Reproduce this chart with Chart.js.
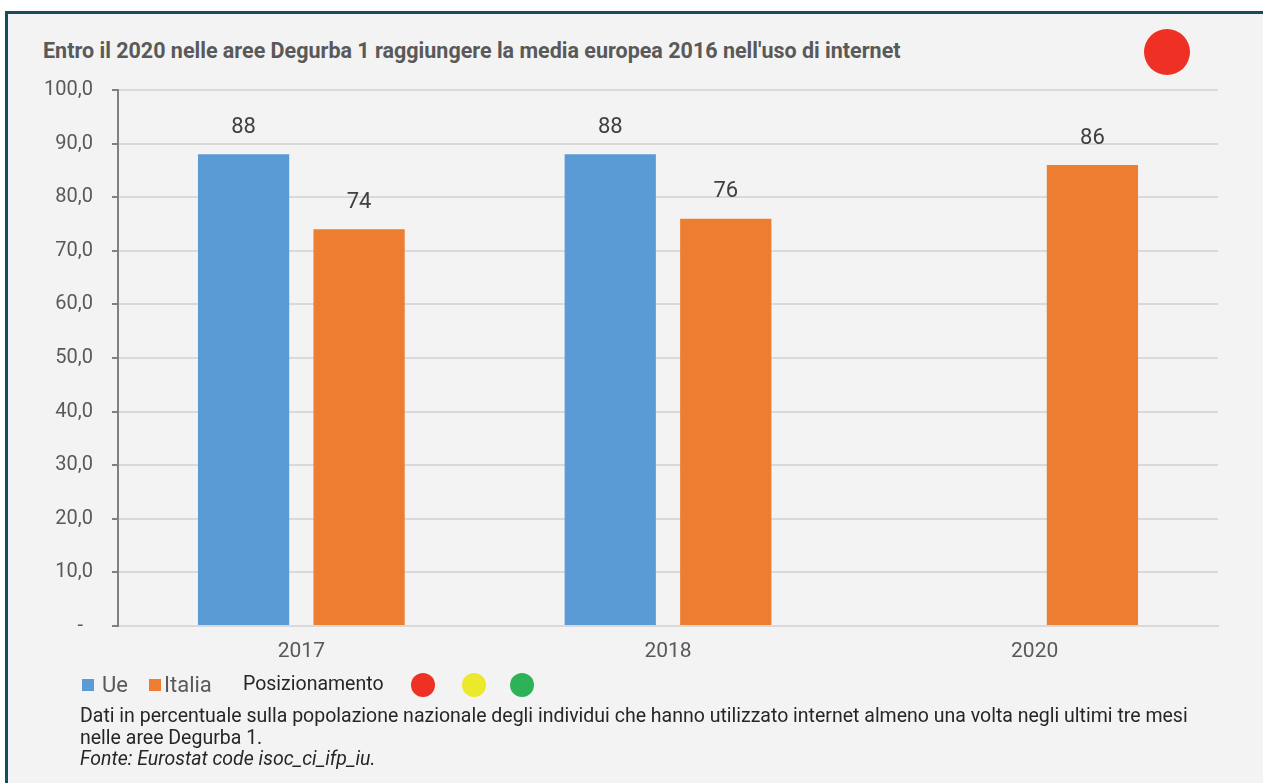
<!DOCTYPE html>
<html>
<head>
<meta charset="utf-8">
<script src="https://cdn.jsdelivr.net/npm/chart.js@4.4.0/dist/chart.umd.min.js"></script>
<style>
  body { margin: 0; background: #fff; font-family: Roboto, sans-serif; }
  #frame {
    position: absolute; left: 5px; top: 11px; width: 1270px; height: 790px;
    border-top: 3px solid #1b4a5b; border-left: 3px solid #1b4a5b;
    background: #f3f3f3;
  }
  #chart { position: absolute; left: 0; top: 0; }
  .title { position: absolute; left: 43px; top: 39px; font-size: 21.5px; line-height: 24px; font-weight: bold; color: #595959; white-space: nowrap; }
  .badge { position: absolute; left: 1144px; top: 29px; width: 46px; height: 46px; border-radius: 50%; background: #ee3124; }
  .legend { position: absolute; top: 672px; left: 0; height: 26px; width: 800px; }
  .sw { position: absolute; top: 7px; width: 12px; height: 12px; }
  .lt { position: absolute; top: 0; font-size: 22px; line-height: 26px; color: #595959; white-space: nowrap; }
  .dot { position: absolute; top: 1px; width: 24px; height: 24px; border-radius: 50%; }
  .note { position: absolute; left: 80px; top: 705px; font-size: 19.5px; line-height: 21.5px; color: #262626; white-space: nowrap; }
</style>
</head>
<body>
<div id="frame"></div>
<div class="title">Entro il 2020 nelle aree Degurba 1 raggiungere la media europea 2016 nell'uso di internet</div>
<div class="badge"></div>
<canvas id="chart" width="1263" height="783"></canvas>
<div class="legend">
  <div class="sw" style="left:82px;background:#5b9bd5"></div>
  <div class="lt" style="left:102px">Ue</div>
  <div class="sw" style="left:149px;background:#ed7d31"></div>
  <div class="lt" style="left:164px">Italia</div>
  <div class="lt" style="left:243px;font-size:19.5px;line-height:24px;color:#262626;top:0">Posizionamento</div>
  <div class="dot" style="left:411px;background:#ee3124"></div>
  <div class="dot" style="left:462px;background:#ebe92b"></div>
  <div class="dot" style="left:510px;background:#2db257"></div>
</div>
<div class="note">Dati in percentuale sulla popolazione nazionale degli individui che hanno utilizzato internet almeno una volta negli ultimi tre mesi<br>nelle aree Degurba 1.<br><i>Fonte: Eurostat code isoc_ci_ifp_iu.</i></div>

<script>
const years = ['2017', '2018', '2020'];
const ue = [88, 88, null];
const italia = [74, 76, 86];
const yTicks = [0, 10, 20, 30, 40, 50, 60, 70, 80, 90, 100];

// labels above each bar
const barLabels = {
    id: 'barLabels',
    afterDatasetsDraw(chart) {
        const ctx = chart.ctx;
        ctx.save();
        ctx.font = '22px Roboto';
        ctx.fillStyle = '#404040';
        ctx.textAlign = 'center';
        ctx.textBaseline = 'middle';
        chart.data.datasets.forEach((ds, i) => {
            chart.getDatasetMeta(i).data.forEach((bar, j) => {
                if (ds.data[j] == null) return;
                ctx.fillText(String(ds.data[j]), bar.x, bar.y - 27);
            });
        });
        ctx.restore();
    }
};

const ctx = document.getElementById('chart').getContext('2d');
new Chart(ctx, {
    type: 'bar',
    data: {
        labels: years,
        datasets: [
            { label: 'Ue', data: ue, backgroundColor: '#5b9bd5' },
            { label: 'Italia', data: italia, backgroundColor: '#ed7d31' }
        ]
    },
    options: {
        responsive: false,
        animation: false,
        categoryPercentage: 0.63,
        barPercentage: 0.79,
        layout: { padding: { top: 90, right: 45, left: 0, bottom: 0 } },
        plugins: {
            legend: { display: false },
            tooltip: { enabled: false }
        },
        scales: {
            x: {
                grid: { display: false, drawTicks: false },
                border: { color: '#d9d9d9', width: 2 },
                ticks: { color: '#595959', font: { family: 'Roboto', size: 21 }, padding: 13 },
                afterFit(scale) { scale.height = 157; }
            },
            y: {
                min: 0,
                max: 100,
                afterBuildTicks(scale) { scale.ticks = yTicks.map(v => ({ value: v })); },
                grid: { color: '#d9d9d9', lineWidth: 2, tickColor: '#808080', tickLength: 6 },
                border: { color: '#808080', width: 2 },
                ticks: {
                    color: '#595959',
                    font: { family: 'Roboto', size: 20 },
                    padding: 19,
                    callback: v => v === 0 ? '-  ' : v.toFixed(1).replace('.', ',')
                },
                afterFit(scale) { scale.width = 118; }
            }
        }
    },
    plugins: [barLabels]
});
</script>
</body>
</html>
